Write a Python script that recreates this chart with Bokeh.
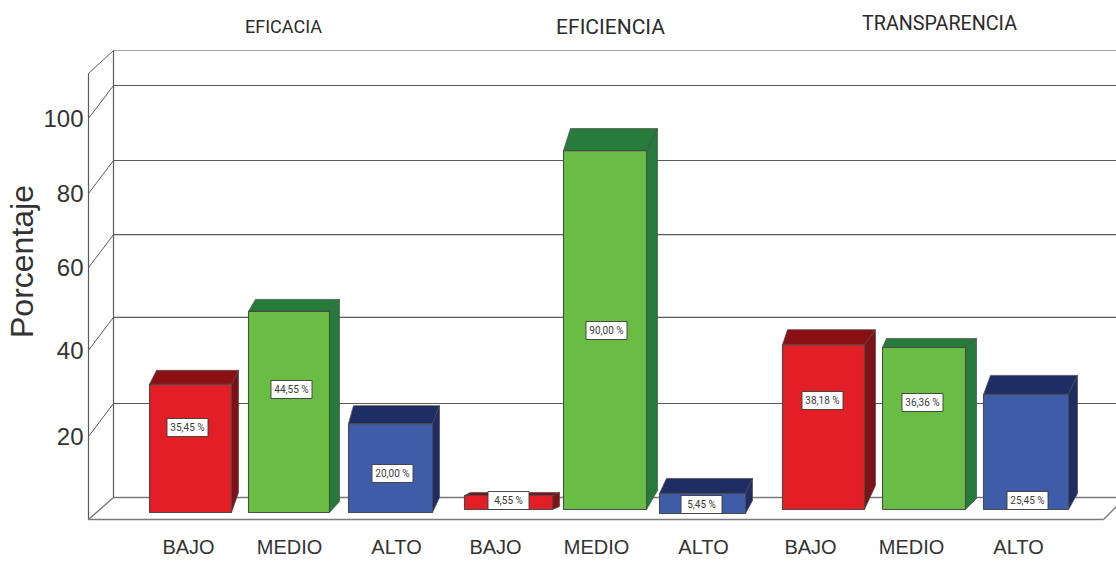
from bokeh.core.properties import value
from bokeh.embed import file_html
from bokeh.models import ColumnDataSource, FixedTicker, Range1d
from bokeh.plotting import figure
from bokeh.resources import INLINE

# ---- data -------------------------------------------------------------
PANELS = ["EFICACIA", "EFICIENCIA", "TRANSPARENCIA"]
LEVELS = ["BAJO", "MEDIO", "ALTO"]
Y_TICK_LABELS = ["20", "40", "60", "80", "100"]
# where each label's tick lands on the drawn (uneven) axis
Y_TICK_READ = [20.7, 42.2, 62.8, 81.3, 100.0]
# printed percentages
EFICACIA_LABELS = ["35,45 %", "44,55 %", "20,00 %"]
EFICIENCIA_LABELS = ["4,55 %", "90,00 %", "5,45 %"]
TRANSPARENCIA_LABELS = ["38,18 %", "36,36 %", "25,45 %"]
# bar tops as read on the drawn axis
EFICACIA_READ = [33.7, 51.9, 23.9]
EFICIENCIA_READ = [6.0, 92.0, 6.5]
TRANSPARENCIA_READ = [43.6, 42.9, 31.2]

# ---- layout (reference pixel space on x; axis units on y) ---------------
PX = 1 / 4.01  # axis units per pixel
FLOOR_Y = 519
def py(page_y):
    return (FLOOR_Y - page_y) * PX

BAR_LEFT = [149, 248, 348, 464, 563, 659, 782, 882, 983]
BAR_RIGHT = [231, 329, 432, 552, 646, 745, 864, 965, 1068]
BAR_BASE = [512, 512, 512, 509, 509, 513, 509, 509, 509]
TOP_DX = [7, 7, 5, 6, 7, 7, 5, 4, 7]
SIDE_DX = [7, 10, 7, 7, 11, 7, 11, 11, 9]
TOP_DY = [14, 12, 18, 3, 22, 15, 15, 9, 19]
BOTTOM_DY = [20, 11, 15, 3, 19, 13, 24, 11, 16]
LABEL_X = [187, 291, 392, 508, 606, 701, 822, 922, 1027]
LABEL_Y = [427, 389, 473, 500, 330, 504, 400, 402, 500]
CAT_X = [188, 289, 396, 495, 596, 703, 810, 911, 1018]
TITLE_X = [283, 610, 939]
TITLE_Y = [26, 26, 23]
TITLE_SIZE = ["18px", "21px", "19.7px"]

FRONT = ["#E21E26", "#69BD45", "#3F5CA9"]
TOP = ["#8A1014", "#267B3A", "#1E2D63"]
SIDE = ["#7E1216", "#277A3B", "#1E2D63"]
EDGE = "#4A4A4A"

FONT = "Liberation Sans"
NARROW = "Roboto"

p = figure(
    width=1116, height=563, output_backend="svg", toolbar_location=None,
    x_range=Range1d(86, 1116), y_range=Range1d(py(522), py(0)),
    min_border_left=86, min_border_right=0, min_border_top=0, min_border_bottom=41,
    background_fill_color="white", border_fill_color="white",
)
p.outline_line_color = None
p.grid.visible = False

# axes
p.yaxis.ticker = FixedTicker(ticks=Y_TICK_READ)
p.yaxis.major_label_overrides = dict(zip(Y_TICK_READ, Y_TICK_LABELS))
p.yaxis.major_label_text_font = FONT
p.yaxis.major_label_text_font_size = "24px"
p.yaxis.major_label_text_color = "#333333"
p.yaxis.major_label_standoff = 3
p.yaxis.major_tick_out = 0
p.yaxis.major_tick_in = 0
p.yaxis.minor_tick_out = 0
p.yaxis.minor_tick_in = 0
p.yaxis.major_tick_line_color = None
p.yaxis.minor_tick_line_color = None
p.yaxis.axis_line_color = None
p.yaxis.axis_label = "Porcentaje"
p.yaxis.axis_label_text_font = FONT
p.yaxis.axis_label_text_font_size = "32px"
p.yaxis.axis_label_text_font_style = "normal"
p.yaxis.axis_label_text_color = "#333333"
p.yaxis.axis_label_standoff = 0

cat_labels = LEVELS * 3
p.xaxis.ticker = FixedTicker(ticks=CAT_X)
p.xaxis.major_label_overrides = dict(zip(CAT_X, cat_labels))
p.xaxis.major_label_text_font = FONT
p.xaxis.major_label_text_font_size = "20px"
p.xaxis.major_label_text_color = "#333333"
p.xaxis.major_label_standoff = 13
p.xaxis.major_tick_out = 0
p.xaxis.major_tick_in = 0
p.xaxis.minor_tick_out = 0
p.xaxis.minor_tick_in = 0
p.xaxis.major_tick_line_color = None
p.xaxis.minor_tick_line_color = None
p.xaxis.axis_line_color = None

# back wall, floor, side wall
XF, XB, XR = 88, 113, 1116
GRID = "#5A5A5A"
tick_y = Y_TICK_READ
back_y = [v + 33 * PX for v in tick_y]
p.segment(x0=[XB] * 5, x1=[XR] * 5, y0=back_y, y1=back_y, line_color=GRID, line_width=1.2)
p.segment(x0=[XF] * 5, x1=[XB] * 5, y0=tick_y, y1=back_y, line_color=GRID, line_width=1)
p.segment(x0=[XB], x1=[XR], y0=[py(50)], y1=[py(50)], line_color="#A8A8A8", line_width=1.2)
p.segment(x0=[XF], x1=[XB], y0=[py(73)], y1=[py(50)], line_color=GRID, line_width=1)
p.segment(x0=[XF, XB], x1=[XF, XB], y0=[py(519), py(497)], y1=[py(73), py(50)],
          line_color=GRID, line_width=1.2)
p.segment(x0=[XF, XB, XF, 1103], x1=[1103, XR, XB, XR],
          y0=[py(519), py(497), py(519), py(519)], y1=[py(519), py(497), py(497), py(506)],
          line_color="#7A7A7A", line_width=1.4)

# 3-D bars
read = EFICACIA_READ + EFICIENCIA_READ + TRANSPARENCIA_READ
texts = EFICACIA_LABELS + EFICIENCIA_LABELS + TRANSPARENCIA_LABELS
for i, top_v in enumerate(read):
    L, R = BAR_LEFT[i], BAR_RIGHT[i]
    b = py(BAR_BASE[i])
    tdx, sdx, tdy, bdy = TOP_DX[i], SIDE_DX[i], TOP_DY[i] * PX, BOTTOM_DY[i] * PX
    c = i % 3
    p.patch([L, L + tdx, R + sdx, R], [top_v, top_v + tdy, top_v + tdy, top_v],
            fill_color=TOP[c], line_color=EDGE, line_width=0.7)
    p.patch([R, R + sdx, R + sdx, R], [top_v, top_v + tdy, b + bdy, b],
            fill_color=SIDE[c], line_color=EDGE, line_width=0.7)
    p.quad(left=[L], right=[R], bottom=[b], top=[top_v],
           fill_color=FRONT[c], line_color=EDGE, line_width=1.1)

# value labels
src = ColumnDataSource(dict(x=LABEL_X, y=[py(v) for v in LABEL_Y], t=texts))
p.rect(x="x", y="y", width=41, height=18, width_units="screen", height_units="screen",
       source=src, fill_color="white", line_color="#3A3A3A", line_width=0.9)
p.text(x="x", y="y", text="t", source=src, text_font=value(NARROW), text_font_size="10px",
       text_color="#3A3A3A", text_align="center", text_baseline="middle")

# panel titles
for name, tx, ty, size in zip(PANELS, TITLE_X, TITLE_Y, TITLE_SIZE):
    p.text(x=[tx], y=[py(ty)], text=[name], text_font=value(NARROW),
           text_font_size=value(size), text_color="#2B2B2B",
           text_align="center", text_baseline="middle")

open("out.html", "w").write(file_html(p, INLINE))
